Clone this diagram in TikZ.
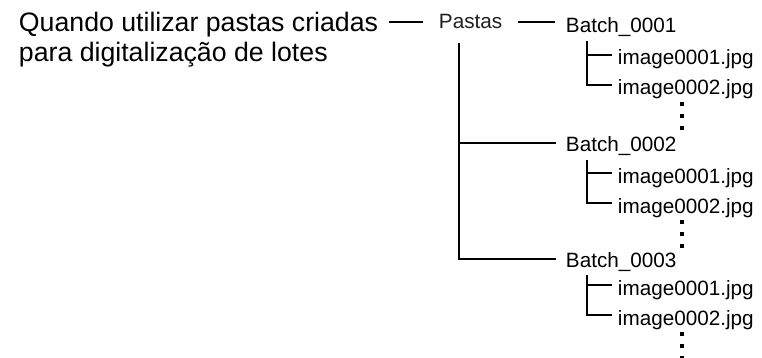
\documentclass[tikz,border=0pt]{standalone}
\usepackage{fontspec}
\setmainfont{Liberation Sans}
\begin{document}
\begin{tikzpicture}[x=1pt, y=-1pt, line width=1.9pt,
	big/.style={anchor=base west, inner sep=0pt, font=\fontsize{26.7}{30.5}\selectfont},
	small/.style={anchor=base west, inner sep=0pt, font=\fontsize{20.7}{24}\selectfont}]
	\useasboundingbox (0, 0) rectangle (762, 358);
	\node[big] (q1) at (18, 31.5) {Quando utilizar pastas criadas};
	\node[big] (q2) at (18, 62) {para digitalização de lotes};
	\node[small, text=black!88] (pastas) at (438, 29) {Pastas};
	\node[small] (b1) at (565, 33) {Batch\_0001};
	\node[small] (b2) at (565, 152) {Batch\_0002};
	\node[small] (b3) at (565, 267) {Batch\_0003};
	\foreach \b/\y in {1/65, 2/183, 3/295} {
		\node[small] (img\b1) at (617, \y) {image0001.jpg};
		\node[small] (img\b2) at (617, \y+30) {image0002.jpg};
	}
	% main tree
	\draw ([xshift=10pt, yshift=9.5pt]q1.base east) -- ([xshift=-15pt, yshift=7pt]pastas.base west);
	\draw ([xshift=15pt, yshift=7pt]pastas.base east) -- ([xshift=-10pt, yshift=11pt]b1.base west);
	\coordinate (trunk) at ([xshift=21pt, yshift=-14pt]pastas.base west);
	\coordinate (b2in) at ([xshift=-9pt, yshift=9pt]b2.base west);
	\draw (trunk) |- ([xshift=-9pt, yshift=8pt]b3.base west);
	\draw (trunk |- b2in) -- (b2in);
	% files of each batch
	\foreach \b in {1, 2, 3} {
		\coordinate (s\b) at ([xshift=22pt, yshift=-8pt]b\b.base west);
		\coordinate (f\b) at ([xshift=-5pt, yshift=10pt]img\b1.base west);
		\draw[line width=2.3pt] (s\b) |- ([xshift=-5pt, yshift=10pt]img\b2.base west);
		\draw[line width=2.3pt] (s\b |- f\b) -- (f\b);
		\foreach \d in {9, 21, 33}
			\fill ([xshift=65pt, yshift=-\d pt]img\b2.base west) +(-1.6, -1.6) rectangle +(1.6, 1.6);
	}
\end{tikzpicture}
\end{document}
